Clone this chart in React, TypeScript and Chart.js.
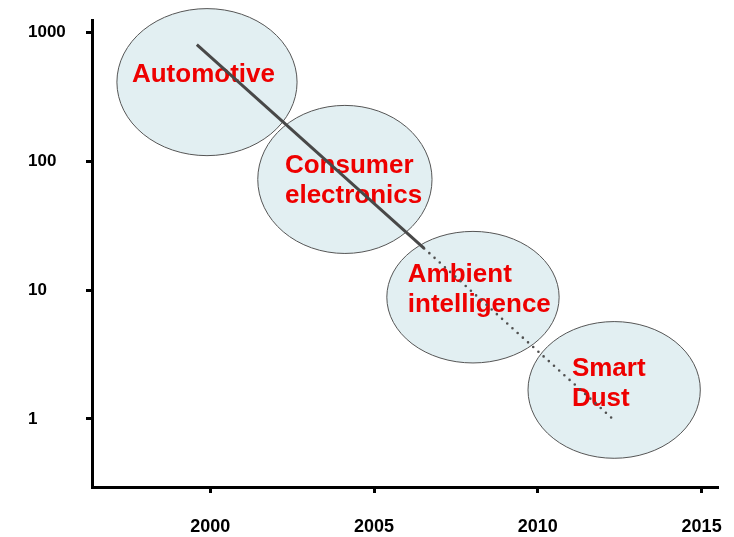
import React, { useEffect, useRef } from 'react';
import { Chart, registerables } from 'chart.js';

Chart.register(...registerables);

// Axis ticks
const xTicks = [2000, 2005, 2010, 2015];
const yTicks = [1, 10, 100, 1000];

// Trend line (solid part: realised, dotted part: projected)
const solidYears = [1999.59, 2006.53];
const solidValues = [800, 21];
const dottedYears = [2006.53, 2012.29];
const dottedValues = [21, 1];

// Application domains (ellipses)
const domainLines = [['Automotive'], ['Consumer', 'electronics'], ['Ambient', 'intelligence'], ['Smart', 'Dust']];
const domainYears = [1999.9, 2004.11, 2008.02, 2012.33];
const domainValues = [409, 72, 8.8, 1.68];
const domainHalfYears = [2.75, 2.66, 2.63, 2.63];
const domainHalfDecades = [0.57, 0.574, 0.51, 0.53];
const labelYears = [1997.61, 2002.28, 2006.03, 2011.04];
const labelValues = [470, 92, 13.0, 2.45];

const FONT = '"Liberation Sans", Arial, Helvetica, sans-serif';

const ellipsePlugin = {
  id: 'domainEllipses',
  beforeDatasetsDraw(chart: any) {
    const { ctx, scales } = chart;
    const x = scales.x;
    const y = scales.y;
    ctx.save();
    domainYears.forEach((yr, i) => {
      const cx = x.getPixelForValue(yr);
      const cy = y.getPixelForValue(domainValues[i]);
      const rx = x.getPixelForValue(yr + domainHalfYears[i]) - cx;
      const ry = cy - y.getPixelForValue(domainValues[i] * Math.pow(10, domainHalfDecades[i]));
      ctx.beginPath();
      ctx.ellipse(cx, cy, rx, ry, 0, 0, Math.PI * 2);
      ctx.fillStyle = '#e2eff2';
      ctx.fill();
      ctx.lineWidth = 1;
      ctx.strokeStyle = '#555555';
      ctx.stroke();
    });
    ctx.font = `bold 26px ${FONT}`;
    ctx.fillStyle = '#ee0000';
    ctx.textAlign = 'left';
    ctx.textBaseline = 'middle';
    domainLines.forEach((lines, i) => {
      const lx = x.getPixelForValue(labelYears[i]);
      const ly = y.getPixelForValue(labelValues[i]);
      lines.forEach((t, j) => ctx.fillText(t, lx, ly + j * 30));
    });
    ctx.restore();
  },
};

export default function App() {
  const ref = useRef<HTMLCanvasElement | null>(null);

  useEffect(() => {
    if (!ref.current) return;
    const chart = new Chart(ref.current, {
      type: 'line',
      data: {
        datasets: [
          {
            data: solidYears.map((x, i) => ({ x, y: solidValues[i] })),
            borderColor: '#484848',
            borderWidth: 3,
            pointRadius: 0,
          },
          {
            data: dottedYears.map((x, i) => ({ x, y: dottedValues[i] })),
            borderColor: '#505050',
            borderWidth: 2.6,
            borderDash: [0, 7],
            borderCapStyle: 'round',
            pointRadius: 0,
          },
        ],
      },
      options: {
        responsive: false,
        animation: false,
        layout: { padding: { left: 28, top: 20, right: 16, bottom: 0 } },
        plugins: { legend: { display: false }, tooltip: { enabled: false } },
        scales: {
          x: {
            type: 'linear',
            min: 1996.39,
            max: 2015.5,
            afterBuildTicks: (s: any) => {
              s.ticks = xTicks.map((v) => ({ value: v }));
            },
            afterFit: (s: any) => {
              s.height = 50;
              s.paddingLeft = 0;
              s.paddingRight = 0;
            },
            grid: { drawOnChartArea: false, drawTicks: true, tickLength: 6, tickWidth: 3, tickColor: '#000' },
            border: { display: true, color: '#000', width: 3 },
            ticks: {
              padding: 23,
              color: '#000',
              font: { family: FONT, size: 18, weight: 'bold' },
              callback: (v: any) => String(v),
              maxRotation: 0,
            },
          },
          y: {
            type: 'logarithmic',
            min: 0.297,
            max: 1240,
            afterBuildTicks: (s: any) => {
              s.ticks = yTicks.map((v) => ({ value: v }));
            },
            afterFit: (s: any) => {
              s.width = 64;
              s.paddingTop = 0;
              s.paddingBottom = 0;
            },
            grid: { drawOnChartArea: false, drawTicks: true, tickLength: 6, tickWidth: 3, tickColor: '#000' },
            border: { display: true, color: '#000', width: 3 },
            ticks: {
              crossAlign: 'far',
              color: '#000',
              font: { family: FONT, size: 17, weight: 'bold' },
              callback: (v: any) => String(v),
            },
          },
        },
      },
      plugins: [ellipsePlugin],
    } as any);
    return () => chart.destroy();
  }, []);

  return (
    <div style={{ position: 'fixed', left: 0, top: 0, width: 734, height: 537, background: '#fff' }}>
      <canvas ref={ref} width={734} height={537} style={{ display: 'block' }} />
    </div>
  );
}
